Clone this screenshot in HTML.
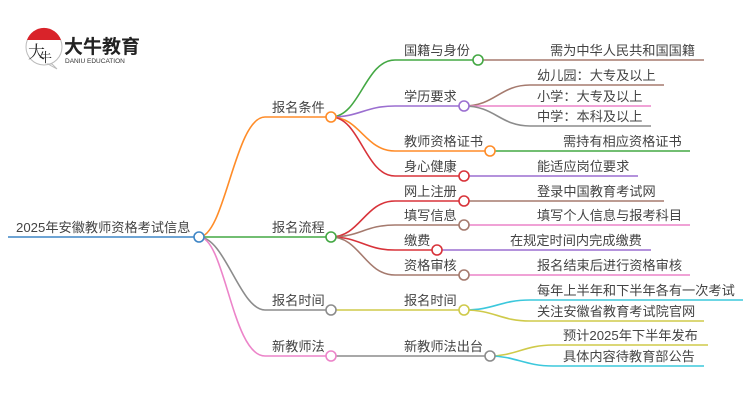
<!DOCTYPE html>
<html><head><meta charset="utf-8"><style>
html,body{margin:0;padding:0;background:#fff;width:750px;height:410px;overflow:hidden}
svg text{font-family:"Liberation Sans","Noto Sans CJK SC",sans-serif;font-size:13.2px;fill:#444}
</style></head><body>
<svg width="750" height="410" viewBox="0 0 750 410" xmlns="http://www.w3.org/2000/svg" fill="none" stroke-width="1.6">
<!-- logo -->
<circle cx="44" cy="47" r="18" fill="#fff" stroke="#bbb" stroke-width="1"/>
<path d="M27 40 A18 18 0 0 1 61 40 Z" fill="#d9232a" stroke="none"/>
<path d="M52 64 L57 69 L48 64 Z" fill="#fff" stroke="#bbb" stroke-width="1"/>
<text x="28" y="58" style="font-size:17px;fill:#222;font-family:'Noto Serif CJK SC',serif">大</text>
<text x="39" y="62" style="font-size:13px;fill:#222;font-family:'Noto Serif CJK SC',serif">牛</text>
<text x="64" y="53" style="font-size:19px;font-weight:bold;fill:#222">大牛教育</text>
<text x="65" y="63" style="font-size:6.5px;fill:#333">DANIU EDUCATION</text>

<!-- root -->
<path d="M8 237 H199" stroke="#3f86c6"/>
<text x="16" y="232">2025年安徽教师资格考试信息</text>

<!-- level1 edges -->
<path d="M199 237 C225 237 235 117 265 117 H331" stroke="#ff8c28"/>
<path d="M199 237 H331" stroke="#44a844"/>
<path d="M199 237 C225 237 240 310 265 310 H331" stroke="#8c8c8c"/>
<path d="M199 237 C225 237 232 356 265 356 H331" stroke="#ec84c9"/>
<text x="272" y="112">报名条件</text>
<text x="272" y="232">报名流程</text>
<text x="272" y="305">报名时间</text>
<text x="272" y="351">新教师法</text>

<path d="M331 117 C360 117 365 60 395 60 H478" stroke="#44a844"/>
<path d="M331 117 C360 117 365 106 395 106 H464" stroke="#9b6fd0"/>
<path d="M331 117 C360 117 365 151 395 151 H490" stroke="#ff8c28"/>
<path d="M331 117 C360 117 365 176 395 176 H464" stroke="#d8333a"/>
<path d="M331 237 C360 237 365 201 395 201 H464" stroke="#d8333a"/>
<path d="M331 237 C360 237 365 225 395 225 H464" stroke="#a57a6e"/>
<path d="M331 237 C360 237 365 250 395 250 H437" stroke="#d8333a"/>
<path d="M331 237 C360 237 365 275 395 275 H464" stroke="#a57a6e"/>
<path d="M331 310 H464" stroke="#cfca4a"/>
<path d="M331 356 H490" stroke="#8c8c8c"/>
<text x="404" y="55">国籍与身份</text>
<text x="404" y="101">学历要求</text>
<text x="404" y="146">教师资格证书</text>
<text x="404" y="171">身心健康</text>
<text x="404" y="196">网上注册</text>
<text x="404" y="220">填写信息</text>
<text x="404" y="245">缴费</text>
<text x="404" y="270">资格审核</text>
<text x="404" y="305">报名时间</text>
<text x="404" y="351">新教师法出台</text>

<path d="M478 60 H704" stroke="#a57a6e"/>
<path d="M464 106 C495 106 500 85 530 85 H664" stroke="#a57a6e"/>
<path d="M464 106 H651" stroke="#ec84c9"/>
<path d="M464 106 C495 106 500 126 530 126 H651" stroke="#8c8c8c"/>
<path d="M490 151 H690" stroke="#44a844"/>
<path d="M464 176 H638" stroke="#9b6fd0"/>
<path d="M464 201 H664" stroke="#a57a6e"/>
<path d="M464 225 H690" stroke="#ec84c9"/>
<path d="M437 250 H651" stroke="#9b6fd0"/>
<path d="M464 275 H690" stroke="#ec84c9"/>
<path d="M464 310 C495 310 500 300 530 300 H743" stroke="#3cc8dc"/>
<path d="M464 310 C495 310 500 321 530 321 H704" stroke="#cfca4a"/>
<path d="M490 356 C515 356 525 345 553 345 H708" stroke="#cfca4a"/>
<path d="M490 356 C515 356 525 366 553 366 H704" stroke="#3cc8dc"/>
<text x="550" y="55">需为中华人民共和国国籍</text>
<text x="537" y="80">幼儿园：大专及以上</text>
<text x="537" y="101">小学：大专及以上</text>
<text x="537" y="121">中学：本科及以上</text>
<text x="563" y="146">需持有相应资格证书</text>
<text x="537" y="171">能适应岗位要求</text>
<text x="537" y="196">登录中国教育考试网</text>
<text x="537" y="220">填写个人信息与报考科目</text>
<text x="510" y="245">在规定时间内完成缴费</text>
<text x="537" y="270">报名结束后进行资格审核</text>
<text x="537" y="295">每年上半年和下半年各有一次考试</text>
<text x="537" y="316">关注安徽省教育考试院官网</text>
<text x="563" y="340">预计2025年下半年发布</text>
<text x="563" y="361">具体内容待教育部公告</text>

<g fill="#fff" stroke-width="1.6">
<circle cx="199" cy="237" r="5" stroke="#3f86c6"/>
<circle cx="331" cy="117" r="5" stroke="#ff8c28"/>
<circle cx="331" cy="237" r="5" stroke="#44a844"/>
<circle cx="331" cy="310" r="5" stroke="#8c8c8c"/>
<circle cx="331" cy="356" r="5" stroke="#ec84c9"/>
<circle cx="478" cy="60" r="5" stroke="#44a844"/>
<circle cx="464" cy="106" r="5" stroke="#9b6fd0"/>
<circle cx="490" cy="151" r="5" stroke="#ff8c28"/>
<circle cx="464" cy="176" r="5" stroke="#d8333a"/>
<circle cx="464" cy="201" r="5" stroke="#d8333a"/>
<circle cx="464" cy="225" r="5" stroke="#a57a6e"/>
<circle cx="437" cy="250" r="5" stroke="#d8333a"/>
<circle cx="464" cy="275" r="5" stroke="#a57a6e"/>
<circle cx="464" cy="310" r="5" stroke="#cfca4a"/>
<circle cx="490" cy="356" r="5" stroke="#8c8c8c"/>
</g>
</svg>
</body></html>
